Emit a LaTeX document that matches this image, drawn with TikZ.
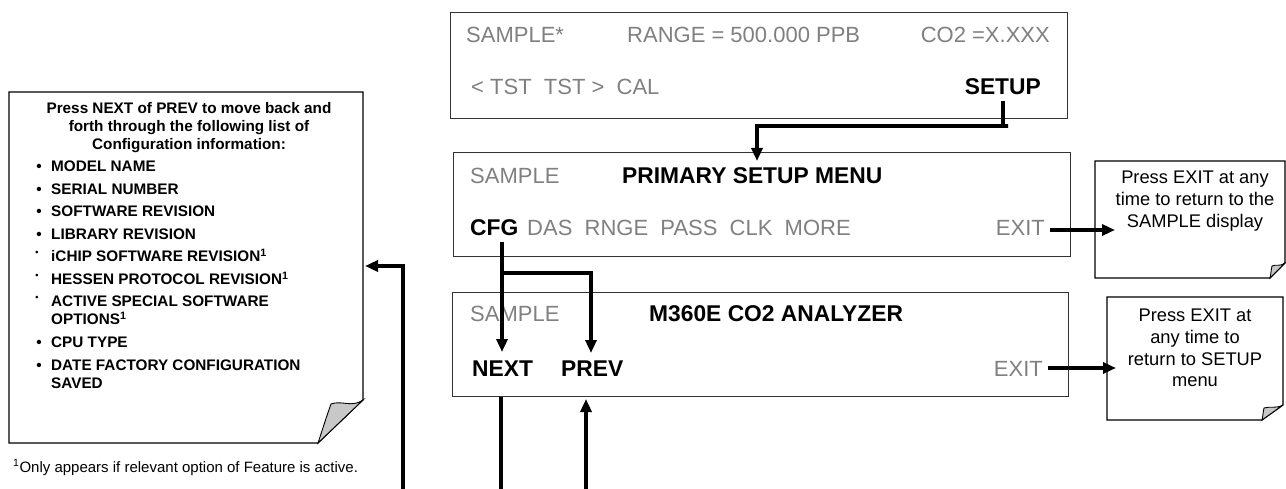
\documentclass[tikz,border=0pt]{standalone}
\usepackage{fontspec}
\setmainfont{Liberation Sans}
\usetikzlibrary{arrows.meta}
\definecolor{scrgray}{RGB}{128,128,128}
\definecolor{foldgray}{RGB}{200,200,200}
\begin{document}
\begin{tikzpicture}[x=1pt,y=-1pt,
  scr/.style={draw=black!80, line width=1.1pt, fill=white, inner sep=0pt, anchor=north west},
  gt/.style={text=scrgray, font=\fontsize{22}{26}\selectfont, inner sep=0pt, anchor=base west},
  bt/.style={text=black, font=\fontsize{22.8}{26}\selectfont\bfseries, inner sep=0pt, anchor=base west},
  arr/.style={line width=3.6pt, -{Triangle[length=13pt,width=11pt]}},
  ln/.style={line width=3.4pt},
  noteline/.style={draw=black, line width=1.1pt, fill=white},
  flap/.style={draw=black, line width=0.9pt, fill=foldgray},
  notetxt/.style={font=\fontsize{18.3}{21.7}\selectfont, align=center, inner sep=0pt},
  lt/.style={font=\fontsize{15.3}{18}\selectfont\bfseries, inner sep=0pt, anchor=base west},
  ltc/.style={font=\fontsize{15.3}{18}\selectfont\bfseries, inner sep=0pt, anchor=base},
  bul/.style={font=\fontsize{15.3}{18}\selectfont\bfseries, inner sep=0pt, anchor=base},
  sbul/.style={font=\fontsize{9}{10}\selectfont\bfseries, inner sep=0pt, anchor=base}
]
\useasboundingbox (0,0) rectangle (1286,489);

% ---------- screen boxes ----------
\node[scr, minimum width=617pt, minimum height=106pt] (box1) at (450,12) {};
\node[scr, minimum width=617pt, minimum height=104pt] (box2) at (453,152) {};
\node[scr, minimum width=616pt, minimum height=104pt] (box3) at (452,292) {};

% box 1 texts
\node[gt] (b1s) at (466,43) {SAMPLE*};
\node[gt] (b1r) at (627,43) {RANGE = 500.000 PPB};
\node[gt, anchor=base east] (b1c) at (1050,43) {CO2 =X.XXX};
\node[gt] (b1t) at (471,95) {< TST \ TST > \ CAL};
\node[bt, anchor=base east] (setup) at (1041,95) {SETUP};

% box 2 texts
\node[gt] (b2s) at (470,184) {SAMPLE};
\node[bt] (b2m) at (622,184) {PRIMARY SETUP MENU};
\node[bt] (cfg) at (470,236) {CFG};
\node[gt] (b2o) at (527,236) {DAS \ RNGE \ PASS \ CLK \ MORE};
\node[gt, anchor=base east] (exit1) at (1045,236) {EXIT};

% box 3 texts
\node[gt] (b3s) at (470,322) {SAMPLE};
\node[bt] (b3m) at (649,322) {M360E CO2 ANALYZER};
\node[bt] (next) at (472,376) {NEXT};
\node[bt] (prev) at (561,376) {PREV};
\node[gt, anchor=base east] (exit2) at (1043,376) {EXIT};

% ---------- right notes ----------
\draw[noteline] (1095,161) -- (1285,161) -- (1285,263) -- (1270,278) -- (1095,278) -- cycle;
\draw[flap] (1285,263) .. controls (1280,267) and (1276,264) .. (1272,266) .. controls (1271,270) and (1271,274) .. (1270,278) -- cycle;
\node[notetxt] (note1) at (1195,201) {Press EXIT at any\\time to return to the\\SAMPLE display};

\draw[noteline] (1107,297) -- (1283,297) -- (1283,405) -- (1262,420) -- (1107,420) -- cycle;
\draw[flap] (1283,405) .. controls (1276,409) and (1270,406) .. (1264,408) .. controls (1263,412) and (1263,416) .. (1262,420) -- cycle;
\node[notetxt] (note2) at (1195,348) {Press EXIT at\\any time to\\return to SETUP\\menu};

% ---------- left note ----------
\draw[noteline] (9,92) -- (363,92) -- (363,400) -- (318,443) -- (9,443) -- cycle;
\draw[flap] (363,400) .. controls (352,408) and (342,400) .. (331,404) .. controls (326,418) and (322,431) .. (318,443) -- cycle;

\node[ltc] (h1) at (189,113.5) {Press NEXT of PREV to move back and};
\node[ltc] (h2) at (189,131.5) {forth through the following list of};
\node[ltc] (h3) at (189,149.5) {Configuration information:};

\node[bul] (u1) at (39,171.5) {•};  \node[lt] (i1) at (51,171.5) {MODEL NAME};
\node[bul] (u2) at (39,194.5) {•};  \node[lt] (i2) at (51,194.5) {SERIAL NUMBER};
\node[bul] (u3) at (39,216.5) {•};  \node[lt] (i3) at (51,216.5) {SOFTWARE REVISION};
\node[bul] (u4) at (39,239.5) {•};  \node[lt] (i4) at (51,239.5) {LIBRARY REVISION};
\node[sbul] (u5) at (37,256) {•};   \node[lt] (i5) at (51,261.5) {iCHIP SOFTWARE REVISION\textsuperscript{1}};
\node[sbul] (u6) at (37,279) {•};   \node[lt] (i6) at (51,284.5) {HESSEN PROTOCOL REVISION\textsuperscript{1}};
\node[sbul] (u7) at (37,301) {•};   \node[lt] (i7) at (51,306.5) {ACTIVE SPECIAL SOFTWARE};
\node[lt] (i7b) at (51,324.5) {OPTIONS\textsuperscript{1}};
\node[bul] (u8) at (39,347.5) {•};  \node[lt] (i8) at (51,347.5) {CPU TYPE};
\node[bul] (u9) at (39,370.5) {•};  \node[lt] (i9) at (51,370.5) {DATE FACTORY CONFIGURATION};
\node[lt] (i9b) at (51,388.5) {SAVED};

\node[font=\fontsize{15}{18}\selectfont, inner sep=0pt, anchor=base west] (foot) at (13,472)
  {\textsuperscript{1}Only appears if relevant option of Feature is active.};

% ---------- connectors ----------
\coordinate (tipA) at (757,161);
\draw[arr] ([yshift=-6pt]setup.south) |- (1008,126) -| (tipA);

\coordinate (cfgdown) at (502,242);
\coordinate (tipN) at (502,352);
\coordinate (tipP) at (591,353);
\draw[arr] (cfgdown) -- (tipN);
\draw[arr] (502,273) -| (tipP);

\coordinate (n1in) at (1115,230);
\coordinate (n2in) at (1116,368);
\draw[arr] ([xshift=5pt]exit1.east |- n1in) -- (n1in);
\draw[arr] ([xshift=5pt]exit2.east |- n2in) -- (n2in);

\coordinate (nextbot) at (501,489);
\coordinate (prevbot) at (586,489);
\coordinate (prevtip) at (586,399);
\coordinate (loopbot) at (403,489);
\coordinate (looptip) at (365,266);
\draw[ln] (box3.south -| nextbot) -- (nextbot);
\draw[arr] (prevbot) -- (prevtip);
\draw[arr] (loopbot) |- (looptip);
\end{tikzpicture}
\end{document}
